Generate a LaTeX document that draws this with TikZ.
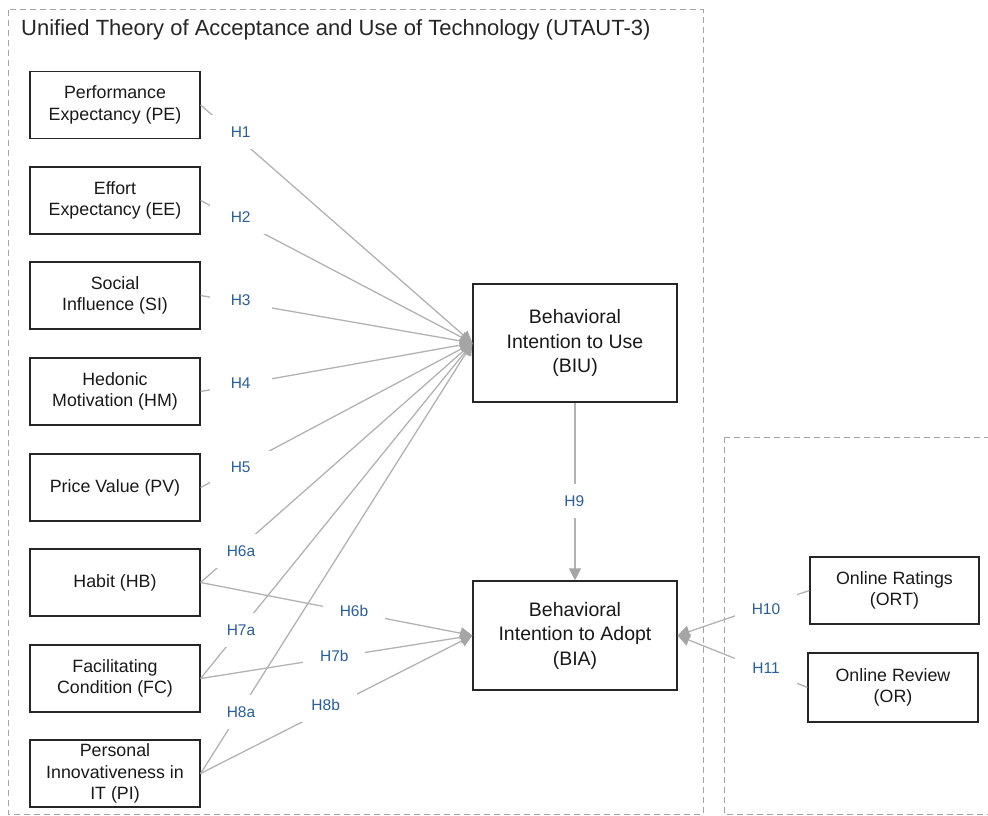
\documentclass[tikz,border=0pt]{standalone}
\usepackage{fontspec}
\setmainfont{Liberation Sans}
\usetikzlibrary{arrows.meta}
\definecolor{hblue}{RGB}{40,95,155}
\definecolor{linegray}{RGB}{178,178,178}
\definecolor{tipgray}{RGB}{165,165,165}
\definecolor{framegray}{RGB}{165,165,165}
\tikzset{
  construct/.style={draw=black!85, line width=1.2pt, minimum width=170, minimum height=67,
    align=center, inner sep=0pt, text=black!90, font=\fontsize{17.8}{21.5}\selectfont},
  outcome/.style={construct, minimum width=204, font=\fontsize{19.5}{24.5}\selectfont},
  hyp/.style={fill=white, minimum width=62, minimum height=34, inner sep=0pt,
    text=hblue, font=\fontsize{15.5}{18}\selectfont},
  link/.style={draw=linegray, line width=1.3pt,
    -{Triangle[length=12pt,width=12pt,color=tipgray]}},
  frame/.style={draw=framegray, line width=1pt, dash pattern=on 6pt off 4pt}
}
\begin{document}
\begin{tikzpicture}[x=1pt,y=-1pt]
\useasboundingbox (0,0) rectangle (988,816);
\draw[frame] (8,10) rectangle (703,814);
\draw[frame] (724,437) rectangle (995,814);
\node[anchor=west, inner sep=0pt, text=black!85, font=\fontsize{22}{26}\selectfont] (title) at (21,30) {Unified Theory of Acceptance and Use of Technology (UTAUT-3)};
\node[construct] (PE) at (115,105) {Performance\\Expectancy (PE)};
\node[construct] (EE) at (115,200.5) {Effort\\Expectancy (EE)};
\node[construct] (SI) at (115,295.5) {Social\\Influence (SI)};
\node[construct] (HM) at (115,391.5) {Hedonic\\Motivation (HM)};
\node[construct] (PV) at (115,487.5) {Price Value (PV)};
\node[construct] (HB) at (115,582.5) {Habit (HB)};
\node[construct] (FC) at (115,678.5) {Facilitating\\Condition (FC)};
\node[construct] (PI) at (115,773.5) {Personal\\Innovativeness in\\IT (PI)};
\node[outcome, minimum height=118] (BIU) at (575,343) {Behavioral\\Intention to Use\\(BIU)};
\node[outcome, minimum height=109] (BIA) at (575,635.5) {Behavioral\\Intention to Adopt\\(BIA)};
\node[construct, minimum width=169] (ORT) at (894.5,590.5) {Online Ratings\\(ORT)};
\node[construct, minimum height=69] (OR) at (893,687.5) {Online Review\\(OR)};
\draw[link] (PE.east) -- (BIU.west);
\draw[link] (EE.east) -- (BIU.west);
\draw[link] (SI.east) -- (BIU.west);
\draw[link] (HM.east) -- (BIU.west);
\draw[link] (PV.east) -- (BIU.west);
\draw[link] (HB.east) -- (BIU.west);
\draw[link] (FC.east) -- (BIU.west);
\draw[link] (PI.east) -- (BIU.west);
\draw[link] (HB.east) -- (BIA.west);
\draw[link] (FC.east) -- (BIA.west);
\draw[link] (PI.east) -- (BIA.west);
\draw[link] (BIU.south) -- (BIA.north);
\draw[link] (ORT.west) -- (BIA.east);
\draw[link] (OR.west) -- (BIA.east);
\node[hyp] (h1) at (240.7,131.7) {H1};
\node[hyp] (h2) at (240.7,216.7) {H2};
\node[hyp] (h3) at (240.7,300) {H3};
\node[hyp] (h4) at (240.7,383.3) {H4};
\node[hyp] (h5) at (240.7,467.7) {H5};
\node[hyp] (h6a) at (241,551) {H6a};
\node[hyp] (h7a) at (241,630) {H7a};
\node[hyp] (h8a) at (241,711.7) {H8a};
\node[hyp] (h6b) at (354,610.7) {H6b};
\node[hyp] (h7b) at (334.3,655.7) {H7b};
\node[hyp] (h8b) at (325.7,705) {H8b};
\node[hyp] (h9) at (574.3,500.7) {H9};
\node[hyp] (h10) at (766,609.3) {H10};
\node[hyp] (h11) at (766,668.3) {H11};
\end{tikzpicture}
\end{document}
